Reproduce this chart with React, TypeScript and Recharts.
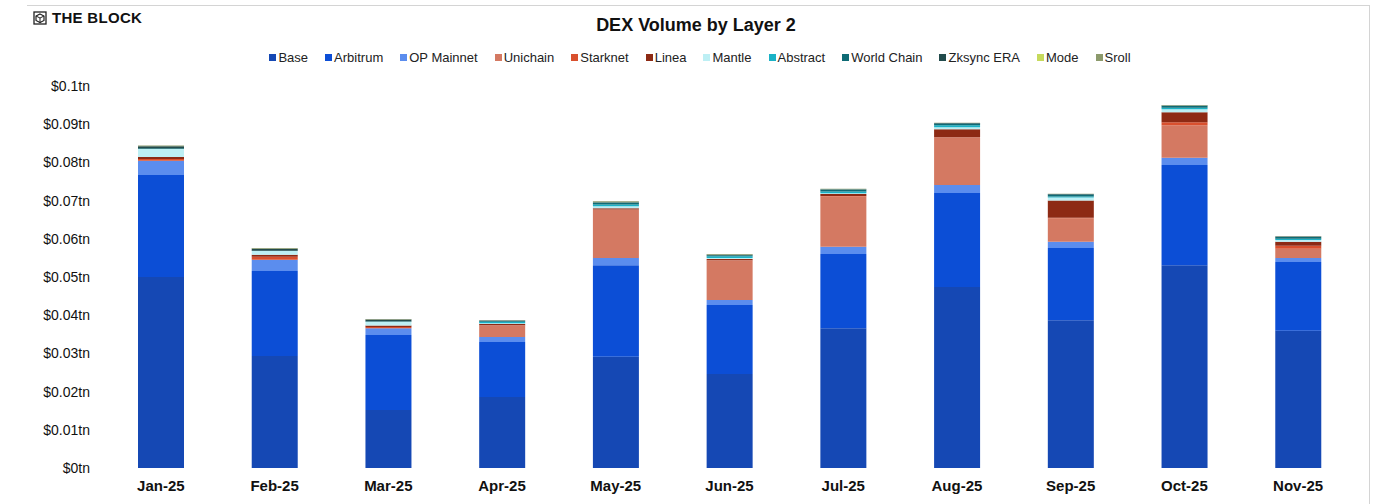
import { BarChart, Bar, XAxis, YAxis } from 'recharts';

// values in $bn
const months = ['Jan-25', 'Feb-25', 'Mar-25', 'Apr-25', 'May-25', 'Jun-25', 'Jul-25', 'Aug-25', 'Sep-25', 'Oct-25', 'Nov-25'];
const base = [50.0, 29.3, 15.2, 18.6, 29.1, 24.6, 36.6, 47.4, 38.7, 53.1, 35.9];
const arbitrum = [26.7, 22.3, 19.6, 14.4, 24.0, 18.1, 19.4, 24.6, 18.9, 26.2, 18.0];
const opMainnet = [3.7, 2.9, 1.8, 1.3, 1.9, 1.3, 1.9, 2.1, 1.6, 1.9, 1.1];
const unichain = [0, 0, 0, 3.0, 12.6, 10.3, 13.2, 12.4, 6.2, 8.5, 2.4];
const starknet = [0.5, 0.8, 0.3, 0.1, 0.1, 0.1, 0.1, 0.1, 0.1, 0.8, 0.8];
const linea = [0.5, 0.5, 0.4, 0.3, 0.3, 0.3, 0.5, 2.1, 4.5, 2.6, 1.0];
const mantle = [2.1, 1.0, 1.0, 0.2, 0.5, 0.3, 0.2, 0.5, 0.8, 0.8, 0.5];
const abstractChain = [0, 0, 0, 0.4, 0.5, 0.4, 0.5, 0.5, 0.3, 0.4, 0.3];
const worldChain = [0.2, 0.1, 0.1, 0.2, 0.5, 0.3, 0.5, 0.5, 0.5, 0.5, 0.5];
const zksync = [0.5, 0.5, 0.5, 0.1, 0.1, 0.1, 0.1, 0.1, 0.1, 0.1, 0.1];
const mode = [0, 0, 0, 0, 0, 0, 0, 0, 0, 0, 0];
const sroll = [0.2, 0.2, 0.1, 0.1, 0.2, 0.2, 0.1, 0.1, 0.1, 0.1, 0.1];
const yTicks = [0, 10, 20, 30, 40, 50, 60, 70, 80, 90, 100];

const series = [
  { key: 'base', name: 'Base', values: base, color: '#1548B4' },
  { key: 'arbitrum', name: 'Arbitrum', values: arbitrum, color: '#0C4ED6' },
  { key: 'op', name: 'OP Mainnet', values: opMainnet, color: '#5B8DEE' },
  { key: 'unichain', name: 'Unichain', values: unichain, color: '#D47962' },
  { key: 'starknet', name: 'Starknet', values: starknet, color: '#D9502E' },
  { key: 'linea', name: 'Linea', values: linea, color: '#8D2A14' },
  { key: 'mantle', name: 'Mantle', values: mantle, color: '#BDEFF4' },
  { key: 'abstract', name: 'Abstract', values: abstractChain, color: '#1BB2C6' },
  { key: 'world', name: 'World Chain', values: worldChain, color: '#0E6B75' },
  { key: 'zksync', name: 'Zksync ERA', values: zksync, color: '#224B4C' },
  { key: 'mode', name: 'Mode', values: mode, color: '#C6DA5C' },
  { key: 'sroll', name: 'Sroll', values: sroll, color: '#8C9A6C' },
];

const chartData = months.map((m, i) => {
  const row: Record<string, string | number> = { month: m };
  series.forEach((s) => {
    row[s.key] = s.values[i];
  });
  return row;
});

const font = 'Arial, "Liberation Sans", sans-serif';

const fmtTick = (v: number) => (v === 0 ? '$0tn' : `$${parseFloat((v / 1000).toFixed(2))}tn`);

export default function App() {
  return (
    <div style={{ position: 'absolute', left: 0, top: 0, width: 1382, height: 504, background: '#fff', fontFamily: font }}>
      {/* frame */}
      <div style={{ position: 'absolute', left: 27, top: 5, width: 1342, height: 499, borderTop: '1px solid #d4d4d4', borderRight: '1px solid #d4d4d4' }} />

      {/* logo */}
      <div style={{ position: 'absolute', left: 33, top: 9, display: 'flex', alignItems: 'center', gap: 5 }}>
        <svg width="14" height="14" viewBox="0 0 14 14">
          <rect x="1" y="1" width="12" height="12" fill="none" stroke="#222" strokeWidth="1.3" />
          <polygon points="7,3 11,5 11,9.5 7,11.5 3,9.5 3,5" fill="none" stroke="#222" strokeWidth="1.2" />
          <line x1="7" y1="7" x2="7" y2="11.5" stroke="#222" strokeWidth="1" />
          <line x1="3" y1="5" x2="7" y2="7" stroke="#222" strokeWidth="1" />
          <line x1="11" y1="5" x2="7" y2="7" stroke="#222" strokeWidth="1" />
        </svg>
        <span style={{ fontWeight: 900, fontSize: 15, color: '#111', letterSpacing: 0.3 }}>THE BLOCK</span>
      </div>

      {/* title */}
      <div style={{ position: 'absolute', left: 0, width: 1392, top: 15, textAlign: 'center', fontWeight: 700, fontSize: 18, color: '#111' }}>
        DEX Volume by Layer 2
      </div>

      {/* legend */}
      <div style={{ position: 'absolute', left: 0, width: 1400, top: 50, display: 'flex', justifyContent: 'center', gap: 17, fontSize: 13, color: '#222' }}>
        {series.map((s) => (
          <div key={s.key} style={{ display: 'flex', alignItems: 'center', gap: 2 }}>
            <span style={{ width: 7, height: 7, background: s.color, display: 'inline-block' }} />
            <span>{s.name}</span>
          </div>
        ))}
      </div>

      <div style={{ position: 'absolute', left: 0, top: 0 }}>
        <BarChart width={1382} height={504} data={chartData} margin={{ top: 86, right: 27, bottom: 0, left: 0 }} barSize={46}>
          <XAxis
            dataKey="month"
            axisLine={false}
            tickLine={false}
            height={36}
            tickMargin={6}
            tick={{ fontSize: 15, fontWeight: 700, fill: '#111', fontFamily: font }}
          />
          <YAxis
            domain={[0, 100]}
            ticks={yTicks}
            axisLine={false}
            tickLine={false}
            tickSize={0}
            tickMargin={14}
            width={104}
            tickFormatter={fmtTick}
            tick={{ fontSize: 14, fill: '#111', fontFamily: font }}
          />
          {series.map((s) => (
            <Bar key={s.key} dataKey={s.key} name={s.name} stackId="a" fill={s.color} isAnimationActive={false} />
          ))}
        </BarChart>
      </div>
    </div>
  );
}
